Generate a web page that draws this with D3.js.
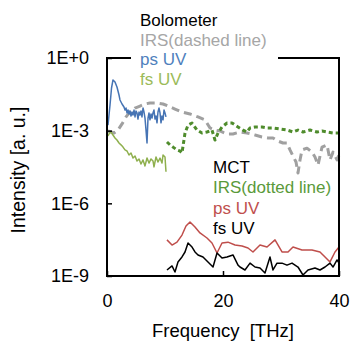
<!DOCTYPE html>
<html>
<head>
<meta charset="utf-8">
<script src="https://cdn.jsdelivr.net/npm/d3@7"></script>
<style>
  body { margin: 0; background: #fff; }
  text { font-family: "Liberation Sans", Arial, sans-serif; }
</style>
</head>
<body>
<div id="chart"></div>
<script>
// Bolometer: IRS (dashed), ps UV, fs UV
const irsBoloF = [0.17,1.21,1.90,2.59,3.28,3.97,4.83,5.69,6.55,7.41,8.62,9.66,10.52,11.72,12.93,14.31,15.69,16.90,17.76,18.62,19.48,20.69,21.72,22.93,24.14,25.52,26.72,27.76,28.62,29.48,30.34,31.03,31.55,32.07,32.59,32.93,33.28,33.62,34.48,35.34,35.86,36.38,37.07,37.93,38.45,38.97,39.66,40.0];
const irsBoloI = [9.7e-4,8.0e-4,1.06e-3,1.9e-3,3.7e-3,5.9e-3,8.6e-3,0.0104,0.0126,0.0139,0.0139,0.0126,0.0104,0.0078,0.0059,0.0049,0.0037,0.0028,1.29e-3,1.06e-3,9.7e-4,7.3e-4,7.3e-4,8.8e-4,8.0e-4,6.6e-4,5.5e-4,5.0e-4,5.0e-4,3.7e-4,3.1e-4,3.1e-4,1.6e-4,9.0e-5,5.1e-5,1.8e-5,6.2e-5,1.6e-4,1.9e-4,1.3e-4,8.2e-5,3.8e-5,2.1e-4,2.6e-4,6.2e-5,1.3e-4,6.2e-5,9.9e-5];

const psBoloF = [0.17,0.52,0.78,1.03,1.38,1.72,2.07,2.24,2.59,2.93,3.10,3.28,3.45,3.62,3.79,3.97,4.14,4.31,4.48,4.66,4.83,5.00,5.17,5.34,5.52,5.69,5.86,6.03,6.21,6.38,6.55,6.72,6.90,7.07,7.24,7.41,7.59,7.76,7.93,8.10,8.28,8.45,8.62,8.79,8.97,9.14,9.31,9.48,9.66,9.83,10.0,10.17];
const psBoloI = [0.0017,0.0115,0.0577,0.124,0.102,0.0635,0.0297,0.0185,0.0126,0.0095,0.0071,0.0086,0.0054,0.0071,0.0049,0.0065,0.0040,0.0059,0.0044,0.0071,0.0037,0.0065,0.0054,0.0030,0.0059,0.0044,0.0065,0.0037,0.0086,0.0059,0.0033,0.0011,0.00031,0.0033,0.0054,0.0028,0.0049,0.0033,0.0054,0.0071,0.0030,0.0040,0.0021,0.0059,0.0086,0.0054,0.0021,0.0040,0.0028,0.0071,0.0054,0.0037];

const fsBoloF = [0.17,0.43,0.69,1.03,1.38,1.72,2.07,2.41,2.76,3.10,3.45,3.79,4.14,4.48,4.83,5.17,5.52,5.86,6.21,6.55,6.90,7.24,7.59,7.93,8.10,8.45,8.79,9.14,9.48,9.66,10.0,10.17];
const fsBoloI = [6.0e-4,8.0e-4,8.8e-4,6.6e-4,5.0e-4,4.1e-4,3.1e-4,2.6e-4,2.1e-4,1.6e-4,1.45e-4,9.9e-5,1.2e-4,7.4e-5,9.0e-5,5.6e-5,6.8e-5,4.2e-5,6.2e-5,3.5e-5,7.4e-5,4.6e-5,6.8e-5,5.6e-5,3.2e-5,8.2e-5,5.1e-5,7.4e-5,4.6e-5,9.9e-5,8.2e-5,2.0e-5];

// MCT: IRS (dotted), ps UV, fs UV
const irsMctF = [10.34,10.86,11.38,12.07,12.59,12.93,13.45,13.97,14.66,15.52,16.38,17.24,18.10,18.62,19.14,19.83,20.69,21.55,22.59,23.45,24.14,24.66,25.52,26.72,27.59,28.62,29.83,31.03,32.07,32.93,33.79,35.0,36.21,37.07,37.93,38.97,39.83];
const irsMctI = [3.4e-4,2.6e-4,2.1e-4,1.6e-4,1.45e-4,1.2e-4,8.0e-4,1.7e-3,2.07e-3,1.06e-3,8.0e-4,8.8e-4,1.06e-3,4.1e-4,8.0e-4,1.42e-3,2.07e-3,2.07e-3,1.42e-3,1.06e-3,8.8e-4,1.29e-3,1.42e-3,1.42e-3,1.29e-3,1.29e-3,1.17e-3,1.06e-3,8.8e-4,1.06e-3,8.8e-4,1.06e-3,8.8e-4,9.7e-4,8.8e-4,8.0e-4,8.0e-4];

const psMctF = [10.34,11.21,12.07,12.93,13.62,14.31,15.17,16.03,17.24,18.10,18.97,19.83,20.86,22.07,23.28,24.31,25.17,26.38,27.59,28.97,30.17,31.21,32.07,33.62,35.34,36.72,37.59,38.45,39.31,40.0];
const psMctI = [3.1e-8,1.9e-8,2.5e-8,4.9e-8,1.16e-7,1.7e-7,1.05e-7,6.0e-8,3.7e-8,2.3e-8,8.9e-9,2.3e-8,2.5e-8,1.9e-8,1.73e-8,1.43e-8,9.8e-9,1.9e-8,1.57e-8,3.1e-8,9.8e-9,9.8e-9,1.57e-8,1.18e-8,1.18e-8,9.8e-9,6.1e-9,3.8e-9,9.8e-9,1.57e-8];

const fsMctF = [10.34,11.21,11.72,12.24,12.93,13.45,13.97,14.66,15.17,15.69,16.55,17.41,18.28,18.97,19.83,20.69,21.72,22.59,22.93,23.79,24.66,25.52,26.38,27.24,28.10,28.62,29.31,30.17,31.03,31.90,32.93,33.79,34.66,35.86,36.72,37.59,38.45,38.97,39.66,40.0];
const fsMctI = [1.77e-9,2.6e-9,1.46e-9,3.8e-9,6.1e-9,9.8e-9,2.3e-8,1.57e-8,9.8e-9,7.4e-9,6.1e-9,3.8e-9,2.35e-9,8.9e-9,5.5e-9,6.1e-9,7.4e-9,2.8e-9,2.35e-9,1.77e-9,3.4e-9,2.35e-9,2.14e-9,1.33e-9,6.1e-9,1.77e-9,3.4e-9,3.4e-9,2.8e-9,3.4e-9,2.35e-9,1.1e-9,1.77e-9,2.14e-9,1.77e-9,2.35e-9,3.4e-9,2.35e-9,4.6e-9,3.4e-9];

const xTicks = [0, 20, 40];
const yTicks = [1, 1e-3, 1e-6, 1e-9];
const yTickLabels = ["1E+0", "1E-3", "1E-6", "1E-9"];

const legendBolo = ["Bolometer", "IRS(dashed line)", "ps UV", "fs UV"];
const legendMct = ["MCT", "IRS(dotted line)", "ps UV", "fs UV"];

const W = 352, H = 342;
const margin = {top: 58, right: 13, bottom: 66, left: 107},
      width = W - margin.left - margin.right,
      height = H - margin.top - margin.bottom;

const svg = d3.select("#chart")
              .append("svg")
              .attr("width", W)
              .attr("height", H);

const g = svg.append("g")
             .attr("transform", "translate(" + margin.left + "," + margin.top + ")");

const x = d3.scaleLinear().domain([0, 40]).range([0, width]);
const y = d3.scaleLog().domain([1e-9, 1]).range([height, 0]);

const line = d3.line()
               .x(d => x(d[0]))
               .y(d => y(d[1]));

const zip = (a, b) => a.map((v, i) => [v, b[i]]);

const series = [
  {f: irsBoloF, v: irsBoloI, color: "#a0a0a0", w: 3, dash: "8,5"},
  {f: irsMctF, v: irsMctI, color: "#4f8c2c", w: 3, dash: "4,3"},
  {f: psBoloF, v: psBoloI, color: "#4674b4", w: 1.5},
  {f: fsBoloF, v: fsBoloI, color: "#8fb04e", w: 1.5},
  {f: psMctF, v: psMctI, color: "#bf4e4b", w: 1.5},
  {f: fsMctF, v: fsMctI, color: "#000", w: 1.5}
];

series.forEach(s => {
  g.append("path")
   .datum(zip(s.f, s.v))
   .attr("d", line)
   .attr("fill", "none")
   .attr("stroke", s.color)
   .attr("stroke-width", s.w)
   .attr("stroke-linejoin", "round")
   .attr("stroke-dasharray", s.dash || null);
});

// frame
g.append("rect")
 .attr("width", width)
 .attr("height", height)
 .attr("fill", "none")
 .attr("stroke", "#000")
 .attr("stroke-width", 2);

// axes (ticks inside)
const yAxis = g.append("g")
   .call(d3.axisLeft(y)
           .tickValues(yTicks)
           .tickFormat((d, i) => yTickLabels[i])
           .tickSizeInner(-5)
           .tickSizeOuter(0)
           .tickPadding(18));

const xAxis = g.append("g")
   .attr("transform", "translate(0," + height + ")")
   .call(d3.axisBottom(x)
           .tickValues(xTicks)
           .tickSizeInner(-5)
           .tickSizeOuter(0)
           .tickPadding(18));

[yAxis, xAxis].forEach(a => {
  a.select(".domain").remove();
  a.selectAll("line").attr("stroke", "#000").attr("stroke-width", 1.5);
  a.selectAll("text")
   .attr("fill", "#000")
   .style("font-size", "18px")
   .style("font-family", "'Liberation Sans', Arial, sans-serif");
});

// legend box on top of frame
svg.append("rect")
   .attr("x", 131).attr("y", 8)
   .attr("width", 147).attr("height", 84)
   .attr("fill", "#fff");

const boloColors = ["#000", "#a6a6a6", "#4f81bd", "#9bbb59"];
const mctColors = ["#000", "#5a9a3a", "#c0504d", "#000"];

svg.selectAll(".legBolo")
   .data(legendBolo)
   .enter()
   .append("text")
   .attr("x", 140)
   .attr("y", (d, i) => 26 + i * 19.7)
   .attr("fill", (d, i) => boloColors[i])
   .style("font-size", "17px")
   .text(d => d);

svg.selectAll(".legMct")
   .data(legendMct)
   .enter()
   .append("text")
   .attr("x", 213)
   .attr("y", (d, i) => 173 + i * 20.3)
   .attr("fill", (d, i) => mctColors[i])
   .style("font-size", "17px")
   .text(d => d);

svg.append("text")
   .attr("x", margin.left + width / 2)
   .attr("y", 337)
   .attr("text-anchor", "middle")
   .style("font-size", "18.5px")
   .style("white-space", "pre")
   .text("Frequency  [THz]");

svg.append("text")
   .attr("transform", "translate(25,170) rotate(-90)")
   .attr("text-anchor", "middle")
   .style("font-size", "19.5px")
   .text("Intensity [a. u.]");
</script>
</body>
</html>
